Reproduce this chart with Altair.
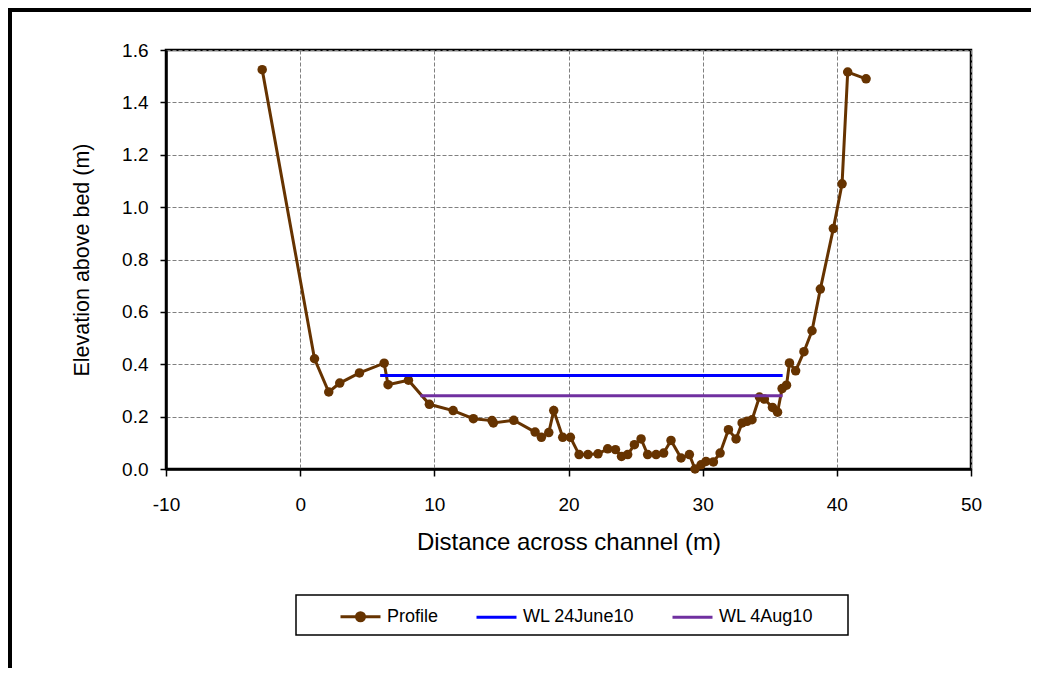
import altair as alt
import pandas as pd

# ---------------- data ----------------
profile_x = [-2.83, 1.07, 2.13, 2.95, 4.42, 6.26, 6.55, 8.07, 9.63, 11.40,
             12.91, 14.30, 14.40, 15.92, 17.51, 17.98, 18.53, 18.90, 19.57, 20.14,
             20.79, 21.45, 22.20, 22.92, 23.50, 23.95, 24.41, 24.91, 25.41, 25.90,
             26.53, 27.09, 27.64, 28.39, 29.01, 29.43, 29.88, 30.25, 30.80, 31.30,
             31.92, 32.49, 32.94, 33.31, 33.68, 34.23, 34.60, 35.20, 35.58, 35.92,
             36.25, 36.47, 36.93, 37.55, 38.15, 38.77, 39.74, 40.39, 40.81, 42.18]
profile_y = [1.525, 0.421, 0.294, 0.328, 0.367, 0.404, 0.322, 0.339, 0.247, 0.223,
             0.192, 0.185, 0.176, 0.186, 0.141, 0.121, 0.139, 0.223, 0.121, 0.121,
             0.055, 0.055, 0.058, 0.077, 0.074, 0.048, 0.055, 0.093, 0.115, 0.055,
             0.055, 0.061, 0.109, 0.042, 0.055, 0.000, 0.016, 0.029, 0.027, 0.061,
             0.150, 0.115, 0.176, 0.182, 0.188, 0.275, 0.267, 0.235, 0.217, 0.307,
             0.320, 0.405, 0.375, 0.448, 0.528, 0.687, 0.918, 1.089, 1.516, 1.490]

wl_june_x = [5.96, 35.96]
wl_june_y = [0.357, 0.357]
wl_aug_x = [8.96, 35.96]
wl_aug_y = [0.280, 0.280]

series_names = ["Profile", "WL 24June10", "WL 4Aug10"]
series_colors = ["#663300", "#0000FF", "#7030A0"]

x_ticks = [-10, 0, 10, 20, 30, 40, 50]
y_ticks = [0.0, 0.2, 0.4, 0.6, 0.8, 1.0, 1.2, 1.4, 1.6]

# legend symbol shapes (line with dot for the profile, plain line for water levels)
PROFILE_PATH = ("M-1,0L1,0"
                "M-0.2,0A0.2,0.2,0,1,1,0.2,0A0.2,0.2,0,1,1,-0.2,0"
                "M-0.075,0A0.075,0.075,0,1,1,0.075,0A0.075,0.075,0,1,1,-0.075,0")
LINE_PATH = "M-1,0L1,0"
legend_shapes = [PROFILE_PATH, LINE_PATH, LINE_PATH]

# ---------------- tables ----------------
prof = pd.DataFrame({"x": profile_x, "y": profile_y, "series": "Profile"})
prof["idx"] = range(len(prof))
wl = pd.concat([
    pd.DataFrame({"x": wl_june_x, "y": wl_june_y, "series": "WL 24June10"}),
    pd.DataFrame({"x": wl_aug_x, "y": wl_aug_y, "series": "WL 4Aug10"}),
], ignore_index=True)
wl["idx"] = range(len(wl))
legend_df = pd.concat([prof.iloc[[0]], wl.groupby("series").head(1)], ignore_index=True)

FONT = "Liberation Sans"

x_enc = alt.X("x:Q",
              scale=alt.Scale(domain=[-10, 50], nice=False, zero=False),
              axis=alt.Axis(values=x_ticks, title="Distance across channel (m)",
                            labelExpr="'' + datum.value",
                            tickSize=7, tickWidth=1.5, tickColor="black",
                            labelPadding=19, labelFontSize=19, labelFont=FONT,
                            labelColor="black", labelFlush=False, labelOverlap=False,
                            titleFont=FONT, titleFontSize=24, titleFontWeight="normal",
                            titleColor="black", titlePadding=16,
                            domainColor="black", domainWidth=2.5,
                            grid=True, gridDash=[4, 2], gridColor="#808080", gridWidth=1))
y_enc = alt.Y("y:Q",
              scale=alt.Scale(domain=[0, 1.6], nice=False, zero=False),
              axis=alt.Axis(values=y_ticks, format=".1f", title="Elevation above bed (m)",
                            tickSize=6, tickWidth=1.5, tickColor="black",
                            labelPadding=12, labelFontSize=19, labelFont=FONT,
                            labelColor="black", labelFlush=False, labelOverlap=False,
                            titleFont=FONT, titleFontSize=21.5, titleFontWeight="normal",
                            titleColor="black", titlePadding=28,
                            domainColor="black", domainWidth=2.5,
                            grid=True, gridDash=[4, 2], gridColor="#808080", gridWidth=1))

color_scale = alt.Scale(domain=series_names, range=series_colors)
color_nolegend = alt.Color("series:N", scale=color_scale, legend=None)

profile_line = alt.Chart(prof).mark_line(strokeWidth=3).encode(
    x=x_enc, y=y_enc, color=color_nolegend, order=alt.Order("idx:Q"))
profile_pts = alt.Chart(prof).mark_circle(size=90, opacity=1).encode(
    x=x_enc, y=y_enc, color=color_nolegend)
wl_lines = alt.Chart(wl).mark_line(strokeWidth=3).encode(
    x=x_enc, y=y_enc, color=color_nolegend, order=alt.Order("idx:Q"))

legend_props = dict(orient="none", legendX=173, legendY=545, direction="horizontal",
                    columns=3, columnPadding=31, padding=0,
                    labelFont=FONT, labelFontSize=18, labelColor="black", labelOffset=5,
                    symbolSize=1600, symbolStrokeWidth=3, title=None)
legend_layer = alt.Chart(legend_df).mark_point(filled=False, size=0, strokeWidth=3, opacity=1).encode(
    x=x_enc, y=y_enc,
    color=alt.Color("series:N", scale=color_scale, legend=alt.Legend(**legend_props)),
    shape=alt.Shape("series:N", scale=alt.Scale(domain=series_names, range=legend_shapes),
                    legend=alt.Legend(**legend_props)),
)

# legend frame box and outer chart-area frame (decoration)
legend_box = alt.Chart(legend_df.head(1)).mark_rect(fill="white", stroke="black", strokeWidth=1.5).encode(
    x=alt.value(130), x2=alt.value(682), y=alt.value(545), y2=alt.value(585))
frame_top = alt.Chart(legend_df.head(1)).mark_rule(color="black", strokeWidth=4).encode(
    x=alt.value(-158), x2=alt.value(880), y=alt.value(-40))
frame_left = alt.Chart(legend_df.head(1)).mark_rule(color="black", strokeWidth=4).encode(
    x=alt.value(-156), y=alt.value(-42), y2=alt.value(640))

chart = alt.layer(legend_box, profile_line, profile_pts, wl_lines, legend_layer, frame_top, frame_left).resolve_scale(
    color="independent", shape="independent"
).resolve_legend(
    color="independent", shape="independent"
).properties(
    width=805, height=419,
    padding={"left": 158, "top": 42, "right": 60, "bottom": 199},
    autosize=alt.AutoSizeParams(type="none"),
    background="white",
).configure_view(
    stroke="black", strokeWidth=2.5
)

chart.save("out.html", embed_options={"renderer": "svg", "actions": False})
